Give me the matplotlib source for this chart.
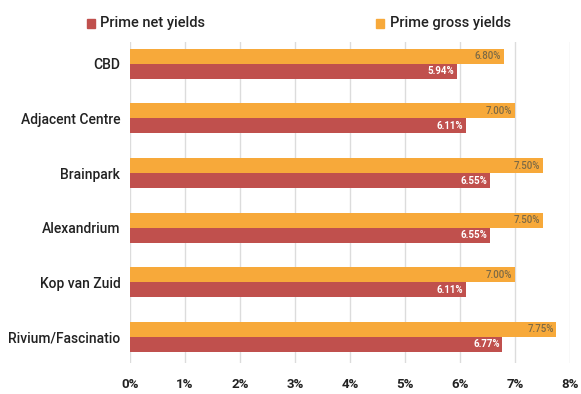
import numpy as np
import matplotlib.pyplot as plt
from matplotlib.patches import Rectangle

plt.rcParams['font.family'] = ['Roboto', 'DejaVu Sans']

COLOR_NET = '#C0504D'
COLOR_GROSS = '#F7A93A'

categories = ['CBD', 'Adjacent Centre', 'Brainpark', 'Alexandrium',
              'Kop van Zuid', 'Rivium/Fascinatio']
net_yields = [5.94, 6.11, 6.55, 6.55, 6.11, 6.77]
gross_yields = [6.80, 7.00, 7.50, 7.50, 7.00, 7.75]
x_ticks = [0, 1, 2, 3, 4, 5, 6, 7, 8]


def draw_bars(ax, y, values, color, offset, text_color, weight):
  bars = ax.barh(y + offset, values, height=0.275, color=color, zorder=3)
  for bar, v in zip(bars, values):
    ax.text(v - 0.05, bar.get_y() + bar.get_height() / 2, '%.2f%%' % v,
            ha='right', va='center', fontsize=7, color=text_color,
            fontweight=weight, zorder=4)


fig = plt.figure(figsize=(5.81, 3.94), dpi=100)
ax = fig.add_axes([130 / 581, 1 - 363 / 394, 440 / 581, 321 / 394])

y = np.arange(len(categories))
draw_bars(ax, y, gross_yields, COLOR_GROSS, -0.1375, '#7d6a45', 'medium')
draw_bars(ax, y, net_yields, COLOR_NET, 0.1375, 'white', 'bold')

ax.set_xlim(0, 8)
ax.set_ylim(5.48, -0.40)
ax.set_xticks(x_ticks)
ax.set_xticklabels(['%d%%' % t for t in x_ticks], fontsize=9.5,
                   color='#222222', fontweight='bold')
ax.set_yticks(y)
ax.set_yticklabels(categories, fontsize=10, color='#222222',
                   fontweight='medium')
ax.tick_params(axis='y', length=0, pad=7)
ax.tick_params(axis='x', length=0, pad=11)
ax.grid(axis='x', color='#dcdcdc', linewidth=1, zorder=0)
for side in ['top', 'right', 'bottom', 'left']:
  ax.spines[side].set_visible(False)

# legend
fig.patches.append(Rectangle((87 / 581, 1 - 28 / 394), 8 / 581, 9 / 394,
                             transform=fig.transFigure, color=COLOR_NET))
fig.text(100 / 581, 1 - 23 / 394, 'Prime net yields', fontsize=10.5,
         va='center', color='#222222', fontweight='medium')
fig.patches.append(Rectangle((376 / 581, 1 - 28 / 394), 8 / 581, 9 / 394,
                             transform=fig.transFigure, color=COLOR_GROSS))
fig.text(390 / 581, 1 - 23 / 394, 'Prime gross yields', fontsize=10.5,
         va='center', color='#222222', fontweight='medium')

plt.savefig('out.png', dpi=100)
